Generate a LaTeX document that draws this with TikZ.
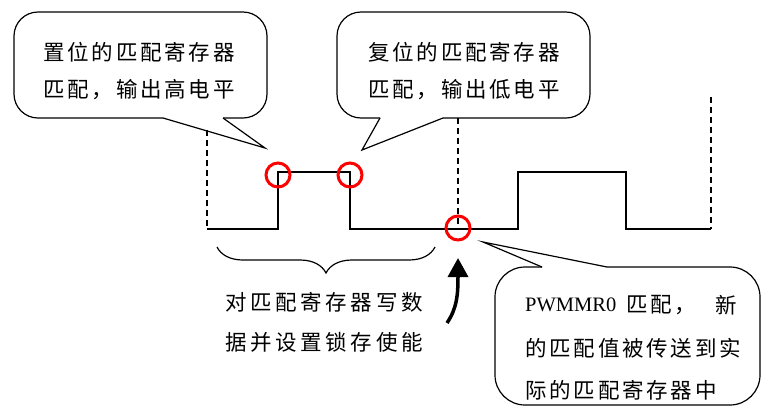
\documentclass[tikz,border=0pt]{standalone}
\usepackage{fontspec}
\setmainfont{Liberation Serif}
\newfontfamily\cjk[LetterSpace=13]{Noto Sans CJK SC}
\newfontfamily\cjkw[LetterSpace=17]{Noto Sans CJK SC}
\usetikzlibrary{arrows.meta,decorations.pathreplacing}
\begin{document}
\begin{tikzpicture}[x=1pt,y=-1pt,
  lbl/.style={anchor=west,inner sep=0pt,font=\cjk\fontsize{21.5}{24}\selectfont},
  lblw/.style={anchor=west,inner sep=0pt,font=\cjkw\fontsize{21.5}{24}\selectfont},
  latin/.style={anchor=west,inner sep=0pt,font=\fontsize{20.5}{24}\selectfont},
  balloon/.style={draw,line width=1.2pt,rounded corners=24pt},
  tail/.style={draw,line width=1.2pt,line join=miter},
  wave/.style={line width=1.4pt},
  guide/.style={line width=1.1pt,dash pattern=on 6pt off 4pt},
  hit/.style={draw=red,line width=3pt}
]
\useasboundingbox (0,0) rectangle (763,408);

% callout 1
\draw[balloon] (223,118) -- (267,118) -- (267,12) -- (14,12) -- (14,118) -- (163,118);
\draw[tail] (163,118) -- (265,148) -- (223,118);
\node[lbl] (c1a) at (43,52) {置位的匹配寄存器};
\node[lbl] (c1b) at (43,90) {匹配，输出高电平};

% callout 2
\draw[balloon] (443,118) -- (590,118) -- (590,12) -- (337,12) -- (337,118) -- (380,118);
\draw[tail] (380,118) -- (362,150) -- (443,118);
\node[lbl] (c2a) at (368,52) {复位的匹配寄存器};
\node[lbl] (c2b) at (368,90) {匹配，输出低电平};

% callout 3
\draw[balloon,rounded corners=30pt] (542,267) -- (495,267) -- (495,405) -- (760,405) -- (760,267) -- (607,267);
\draw[tail] (542,267) -- (483,242) -- (607,267);
\node[latin] (c3p) at (525,305) {PWMMR0};
\node[lbl] (c3q) at (626,305) {匹配，};
\node[lbl] (c3r) at (715,305) {新};
\node[lbl] (c3b) at (525,348) {的匹配值被传送到实};
\node[lbl] (c3c) at (525,390) {际的匹配寄存器中};

% dashed guides
\draw[guide] (207,130) -- (207,229);
\draw[guide] (458,118) -- (458,229);
\draw[guide] (711,97) -- (711,229);

% waveform
\draw[wave] (207,229) -- (278,229) -- (278,172) -- (350,172) -- (350,229) -- (518,229) -- (518,172) -- (626,172) -- (626,229) -- (711,229);

% red marks
\draw[hit] (278,175) circle (12);
\draw[hit] (350,175) circle (12);
\draw[hit] (458,228) circle (12);

% brace
\draw[line width=1.2pt,decorate,decoration={brace,mirror,amplitude=26pt}] (217,247) -- (435,247);
\node[lblw] (b1) at (225,302) {对匹配寄存器写数};
\node[lblw] (b2) at (225,342) {据并设置锁存使能};

% arrow
\coordinate (as) at (447,323);
\coordinate (ae) at (458,258);
\draw[line width=3.5pt,-{Triangle[length=19pt,width=20pt]}] (as) .. controls (457,308) and (458,295) .. (ae);
\end{tikzpicture}
\end{document}
